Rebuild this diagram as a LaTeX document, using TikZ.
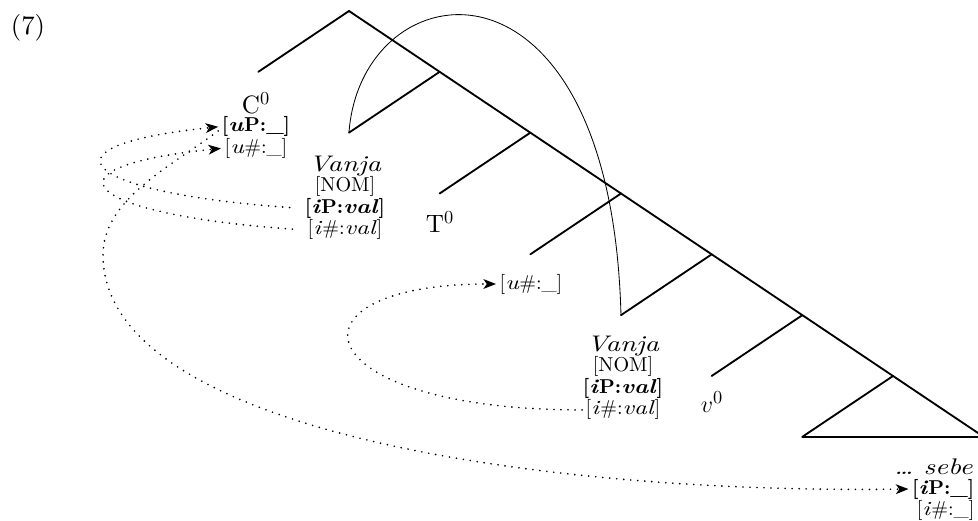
\documentclass[tikz,border=0pt]{standalone}
\usepackage{tikz}
\usepackage{amsmath, amssymb}
\usepackage{fontspec}
\setmainfont{lmroman10-regular.otf}[
  BoldFont=lmroman10-bold.otf,
  ItalicFont=lmroman10-italic.otf,
  BoldItalicFont=lmroman10-bolditalic.otf,
  ItalicFeatures={FakeStretch=1.25},
  BoldItalicFeatures={FakeStretch=1.2}]
\usetikzlibrary{positioning,arrows.meta}

\tikzset{
  branch/.style={line width=1.1pt, line cap=round},
  movement/.style={line width=0.5pt},
  agree/.style={line width=1.1pt, line cap=round, dash pattern=on 0pt off 4.2pt,
    -{Stealth[length=7.5pt,width=5.8pt,inset=2pt]}},
  exnum/.style={inner sep=0pt, font=\fontsize{16}{18}\selectfont},
  cat/.style={inner sep=0pt, font=\fontsize{15}{17}\selectfont},
  lex/.style={inner sep=0pt, font=\fontsize{13.5}{16}\selectfont\itshape},
  feat/.style={inner xsep=2pt, inner ysep=0pt, font=\fontsize{12}{14}\selectfont},
}

\begin{document}
\begin{tikzpicture}[x=0.21mm, y=-0.21mm]
  \useasboundingbox (0,0) rectangle (978,520);

  % spine and left daughters
  \foreach \i in {0,...,7}{
    \coordinate (s\i) at ({349+90.67*\i},{11+60.83*\i});
  }
  \foreach \i in {0,...,6}{
    \coordinate (l\i) at ({258.3+90.67*\i},{71.83+60.83*\i});
    \draw[branch] (s\i) -- (l\i);
  }
  \draw[branch] (s0) -- (s7);
  \draw[branch] (l6) -- (s7);

  % movement of Vanja
  \draw[movement] (l1) .. controls +(12,-165) and +(-10,-383) .. (l4);

  \node[exnum] (ex) at (28,28) {(7)};

  % C
  \node[cat] (C) at (256,103) {C$^0$};
  \node[feat, below=1.5pt of C] (CuP) {\textbf{[\textit{u}P:\_]}};
  \node[feat, below=0.5pt of CuP] (Cuphi) {[\textit{u}\#:\_]};

  % upper Vanja
  \node[lex] (V1) at (345,166) {Vanja};
  \node[feat, below=0pt of V1] (V1nom) {[NOM]};
  \node[feat, below=0.5pt of V1nom] (V1iP) {\textbf{[\textit{i}P:\textit{val}]}};
  \node[feat, below=0.5pt of V1iP] (V1phi) {[\textit{i}\#:\textit{val}]};

  % T
  \node[cat] (T) at (440,222) {T$^0$};
  \node[feat] (Tuphi) at (531,284) {[\textit{u}\#:\_]};

  % lower Vanja
  \node[lex] (V2) at (623,346) {Vanja};
  \node[feat, below=0pt of V2] (V2nom) {[NOM]};
  \node[feat, below=0.5pt of V2nom] (V2iP) {\textbf{[\textit{i}P:\textit{val}]}};
  \node[feat, below=0.5pt of V2iP] (V2phi) {[\textit{i}\#:\textit{val}]};

  % v
  \node[cat] (v) at (712,402) {$v^0$};

  % sebe
  \node[lex, anchor=east] (sebe) at (973,467) {\ldots\ sebe};
  \node[feat, below=2pt of sebe.south east, anchor=north east, xshift=3pt] (sebeiP) {\textbf{[\textit{i}P:\_]}};
  \node[feat, below=0.5pt of sebeiP.south east, anchor=north east] (sebephi) {[\textit{i}\#:\_]};

  % agreement
  \draw[agree, shorten <=7pt] (V1iP.west) .. controls +(-214,-15) and +(-192,20) .. (CuP.west);
  \draw[agree, shorten <=7pt] (V1phi.west) .. controls +(-214,-15) and +(-192,20) .. (Cuphi.west);
  \coordinate (turn) at (103,255);
  \draw[agree] ([yshift=-2.5pt]CuP.west) .. controls +(-50,37) and +(0,-55) .. (turn)
    .. controls +(0,175) and +(-372,5) .. (sebeiP.west);
  \draw[agree] (V2phi.west) .. controls +(-280,0) and +(-220,0) .. (Tuphi.west);
\end{tikzpicture}
\end{document}
